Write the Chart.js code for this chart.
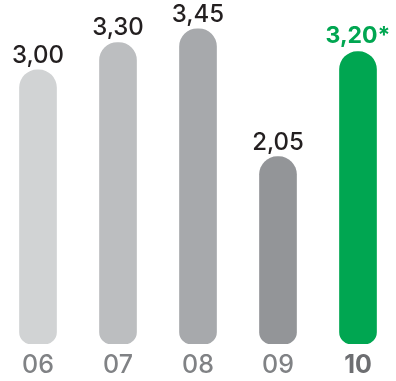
<!DOCTYPE html>
<html>
<head>
<meta charset="utf-8">
<script src="https://cdn.jsdelivr.net/npm/chart.js@4/dist/chart.umd.min.js"></script>
<style>
  html, body { margin: 0; padding: 0; background: #fff; overflow: hidden; width: 396px; height: 381px; }
  #wrap { position: absolute; left: -2px; top: 0; width: 400px; height: 389px; }
</style>
</head>
<body>
<div id="wrap"><canvas id="chart" width="400" height="389"></canvas></div>
<script>
// data
const years = ['06', '07', '08', '09', '10'];
const values = [3.00, 3.30, 3.45, 2.05, 3.20];
const valueLabels = ['3,00', '3,30', '3,45', '2,05', '3,20*'];
const barColors = ['#d1d3d4', '#bcbec0', '#a7a9ac', '#939598', '#00a651'];

const FONT = 'Inter, "DejaVu Sans", sans-serif';

// draws the value above each bar
const valueLabelPlugin = {
  id: 'valueLabels',
  afterDatasetsDraw(chart) {
    const ctx = chart.ctx;
    const meta = chart.getDatasetMeta(0);
    ctx.save();
    ctx.textAlign = 'center';
    ctx.textBaseline = 'alphabetic';
    meta.data.forEach((bar, i) => {
      const last = i === values.length - 1;
      ctx.fillStyle = last ? '#00a651' : '#231f20';
      ctx.font = last ? `bold 23px ${FONT}` : `500 24px ${FONT}`;
      ctx.fillText(valueLabels[i], bar.x, bar.y - (last ? 9 : 7));
    });
    ctx.restore();
  }
};

new Chart(document.getElementById('chart'), {
  type: 'bar',
  data: {
    labels: years,
    datasets: [{
      data: values,
      backgroundColor: barColors,
      barThickness: 37,
      borderSkipped: false,
      borderRadius: { topLeft: 18, topRight: 18, bottomLeft: 12, bottomRight: 12 }
    }]
  },
  options: {
    responsive: false,
    animation: false,
    devicePixelRatio: 1,
    layout: { padding: { top: 0, left: 0, right: 0, bottom: 3 } },
    plugins: { legend: { display: false }, tooltip: { enabled: false } },
    scales: {
      x: {
        grid: { display: false, drawTicks: false },
        border: { display: false },
        ticks: {
          padding: 6,
          color: ctx => ctx.index === 4 ? '#6d6e71' : '#808285',
          font: ctx => ({ family: FONT, size: 25, weight: ctx.index === 4 ? 'bold' : '500' })
        }
      },
      y: {
        display: false,
        min: 0,
        max: 3.765
      }
    }
  },
  plugins: [valueLabelPlugin]
});
</script>
</body>
</html>
